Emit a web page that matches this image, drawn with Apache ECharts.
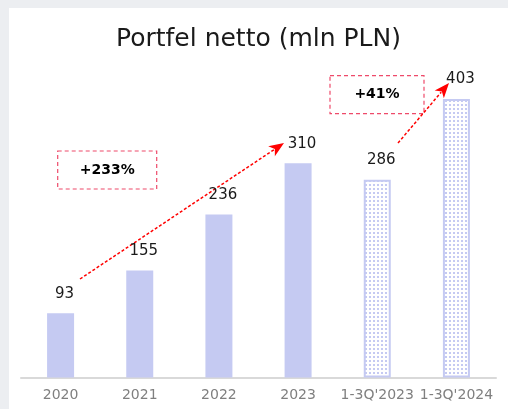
<!DOCTYPE html>
<html>
<head>
<meta charset="utf-8">
<script src="https://cdn.jsdelivr.net/npm/echarts@6/dist/echarts.min.js"></script>
<style>
  html, body { margin: 0; padding: 0; background: #eceef1; }
  #chart { position: absolute; left: 9px; top: 8px; width: 499px; height: 401px; background: #fff; }
</style>
</head>
<body>
<div id="chart"></div>
<script>
var categories = ["2020", "2021", "2022", "2023", "1-3Q'2023", "1-3Q'2024"];
var values = [93, 155, 236, 310, 286, 403];
var hatched = [false, false, false, false, true, true];

var barColor = "#c5caf2";
var font = "DejaVu Sans";

// dotted fill for the quarterly bars
var pat = document.createElement("canvas");
pat.width = 4;
pat.height = 4;
var pctx = pat.getContext("2d");
pctx.fillStyle = "#ffffff";
pctx.fillRect(0, 0, 4, 4);
pctx.fillStyle = barColor;
pctx.fillRect(0, 0, 2, 2);

var chartDom = document.getElementById("chart");
var myChart = echarts.init(chartDom);

function arrow(x1, y1, x2, y2) {
  var a = Math.atan2(y2 - y1, x2 - x1);
  var len = 15, w = 6;
  var bx = x2 - len * Math.cos(a), by = y2 - len * Math.sin(a);
  var px = -Math.sin(a) * w, py = Math.cos(a) * w;
  return [
    {
      type: "line",
      shape: { x1: x1, y1: y1, x2: bx + 3 * Math.cos(a), y2: by + 3 * Math.sin(a) },
      style: { stroke: "#ff0000", lineWidth: 1.5, lineDash: [3, 2] }
    },
    {
      type: "polygon",
      shape: { points: [[x2, y2], [bx + px, by + py], [bx + 4 * Math.cos(a), by + 4 * Math.sin(a)], [bx - px, by - py]] },
      style: { fill: "#ff0000" }
    }
  ];
}

function box(x, y, w, h, text) {
  return [
    {
      type: "rect",
      shape: { x: x, y: y, width: w, height: h },
      style: { fill: "none", stroke: "#ee4a6a", lineWidth: 1.2, lineDash: [4, 3] }
    },
    {
      type: "text",
      x: x + w / 2,
      y: y + h / 2,
      style: { text: text, fill: "#000", font: "bold 14px " + font, textAlign: "center", textVerticalAlign: "middle" }
    }
  ];
}

var option = {
  animation: false,
  title: {
    text: "Portfel netto (mln PLN)",
    left: "center",
    top: 14,
    textStyle: { fontFamily: font, fontWeight: "normal", fontSize: 25, color: "#1a1a1a" }
  },
  grid: { left: 12, right: 12, top: 58.5, bottom: 31.5 },
  xAxis: {
    type: "category",
    data: categories,
    axisLine: { lineStyle: { color: "#d9d9d9", width: 2 } },
    axisTick: { show: false },
    axisLabel: { color: "#7f7f7f", fontFamily: font, fontSize: 14, margin: 11, interval: 0 }
  },
  yAxis: {
    type: "value",
    min: 0,
    max: 450,
    show: false,
    splitLine: { show: false }
  },
  series: [
    {
      type: "bar",
      barWidth: 27,
      data: values.map(function (v, i) {
        return {
          value: v,
          itemStyle: hatched[i]
            ? { color: { image: pat, repeat: "repeat" }, borderColor: barColor, borderWidth: 2 }
            : { color: barColor }
        };
      }),
      label: {
        show: true,
        position: "top",
        distance: 12,
        offset: [4, 0],
        color: "#1a1a1a",
        fontFamily: font,
        fontSize: 15
      }
    }
  ],
  graphic: []
    .concat(box(48.7, 143, 99, 38, "+233%"))
    .concat(box(321, 67.7, 94, 38, "+41%"))
    .concat(arrow(71, 271, 275, 135))
    .concat(arrow(389, 135, 440, 75))
};

option && myChart.setOption(option);
</script>
</body>
</html>
